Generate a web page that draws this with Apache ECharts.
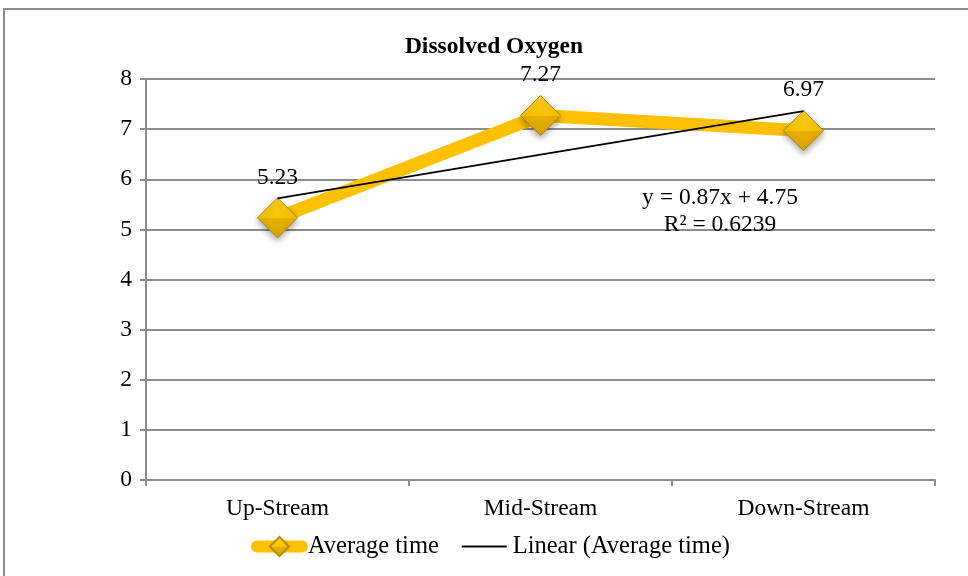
<!DOCTYPE html>
<html>
<head>
<meta charset="utf-8">
<script src="https://cdn.jsdelivr.net/npm/echarts@6/dist/echarts.min.js"></script>
<style>
  html, body { margin: 0; padding: 0; background: #fff; }
  #chart { width: 968px; height: 576px; }
</style>
</head>
<body>
<div id="chart"></div>
<script>
// Sampling sites along the stream
const categories = ['Up-Stream', 'Mid-Stream', 'Down-Stream'];
// Average dissolved oxygen at each site
const averageValues = [5.23, 7.27, 6.97];
// Linear trendline coefficients (x = 1, 2, 3 for the sites)
const trendSlope = 0.87;
const trendIntercept = 4.75;
const trendR2 = 0.6239;
const yTicks = [0, 1, 2, 3, 4, 5, 6, 7, 8];

const trendValues = categories.map((_, i) => +(trendSlope * (i + 1) + trendIntercept).toFixed(2));

const serif = '"Liberation Serif", "DejaVu Serif", serif';
const gridGray = '#8c8c8c';
const textSize = 23.5;

const chart = echarts.init(document.getElementById('chart'));

chart.setOption({
  animation: false,
  backgroundColor: '#fff',
  title: {
    text: 'Dissolved Oxygen',
    left: 489,
    textAlign: 'center',
    top: 30,
    textStyle: { fontFamily: serif, fontSize: 23.5, fontWeight: 'bold', color: '#000' }
  },
  grid: { left: 146, right: 33, top: 79, bottom: 96 },
  xAxis: {
    type: 'category',
    data: categories,
    boundaryGap: true,
    axisLine: { lineStyle: { color: gridGray, width: 2 } },
    axisTick: { show: true, length: 6, alignWithLabel: false, lineStyle: { color: gridGray, width: 2 } },
    axisLabel: { margin: 17, fontFamily: serif, fontSize: textSize, color: '#000' }
  },
  yAxis: {
    type: 'value',
    min: yTicks[0],
    max: yTicks[yTicks.length - 1],
    interval: 1,
    axisLine: { show: true, lineStyle: { color: gridGray, width: 2 } },
    axisTick: { show: true, length: 6, lineStyle: { color: gridGray, width: 2 } },
    splitLine: { show: true, lineStyle: { color: gridGray, width: 2 } },
    axisLabel: { margin: 14, fontFamily: serif, fontSize: textSize, color: '#000' }
  },
  legend: {
    bottom: 17,
    left: 251,
    padding: 0,
    itemGap: 22,
    itemWidth: 45,
    itemHeight: 24,
    textStyle: { fontFamily: serif, fontSize: 24.5, color: '#000', padding: [0, 0, 0, 1] },
    data: [
      {
        name: 'Average time',
        lineStyle: { color: '#FFC000', width: 12, cap: 'round' }
      },
      {
        name: 'Linear (Average time)',
        itemStyle: { opacity: 0 },
        lineStyle: { color: '#000', width: 1.8 }
      }
    ]
  },
  graphic: [
    {
      type: 'rect',
      shape: { x: 4, y: 9, width: 1000, height: 620 },
      style: { fill: 'none', stroke: '#8c8c8c', lineWidth: 2 },
      silent: true,
      z: -10
    },
    {
      type: 'text',
      x: 720,
      y: 184,
      style: {
        text: 'y = ' + trendSlope + 'x + ' + trendIntercept + '\nR² = ' + trendR2,
        font: textSize + 'px ' + serif,
        fill: '#000',
        align: 'center',
        verticalAlign: 'top',
        lineHeight: 27
      },
      z: 20
    }
  ],
  series: [
    {
      name: 'Linear (Average time)',
      type: 'line',
      data: trendValues,
      symbol: 'none',
      lineStyle: { color: '#000', width: 1.8 },
      itemStyle: { color: '#000' },
      z: 5
    },
    {
      name: 'Average time',
      type: 'line',
      data: averageValues,
      symbol: 'diamond',
      symbolSize: 40,
      lineStyle: { color: '#FFC000', width: 13 },
      itemStyle: {
        color: new echarts.graphic.LinearGradient(0, 0, 0, 1, [
          { offset: 0, color: '#FFD21F' },
          { offset: 0.5, color: '#F7C200' },
          { offset: 0.52, color: '#E6B000' },
          { offset: 1, color: '#D9A300' }
        ]),
        borderColor: '#B58A00',
        borderWidth: 1,
        shadowColor: 'rgba(0,0,0,0.35)',
        shadowBlur: 6,
        shadowOffsetY: 3
      },
      label: {
        show: true,
        position: 'top',
        distance: 8,
        fontFamily: serif,
        fontSize: textSize,
        color: '#000',
        formatter: p => p.value.toFixed(2)
      },
      z: 3
    }
  ]
});
</script>
</body>
</html>
